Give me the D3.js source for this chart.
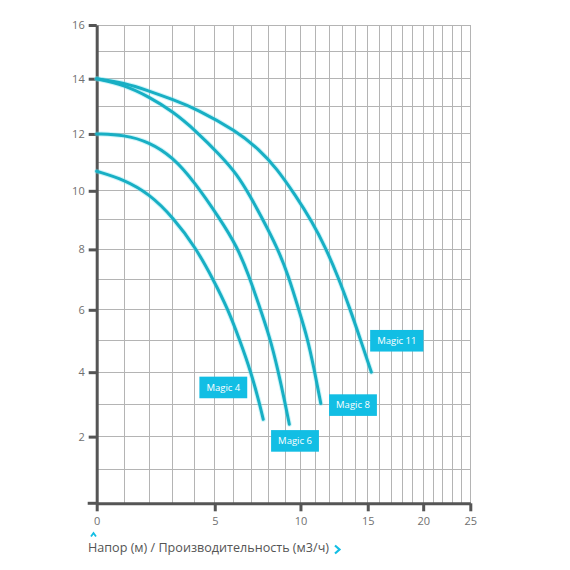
<!DOCTYPE html>
<html>
<head>
<meta charset="utf-8">
<script src="https://cdn.jsdelivr.net/npm/d3@7"></script>
<style>
  html, body { margin: 0; padding: 0; background: #fff; }
  svg { display: block; }
</style>
</head>
<body>
<svg id="chart" width="570" height="570"></svg>
<script>
// ---- data (flow m3/h, head m) ----
const seriesNames = ["Magic 4", "Magic 6", "Magic 8", "Magic 11"];
const magic4 = [[0,10.68],[1,10.39],[2,9.89],[3,9.1],[4.07,8.05],[4.92,7],[5.7,6],[6.33,5],[6.95,4],[7.45,3],[7.66,2.53]];
const magic6 = [[0,12],[1,11.97],[2,11.71],[3,11.18],[4,10.31],[5.27,9.03],[6.17,8.1],[6.84,7.11],[7.35,6.25],[8.07,5.09],[8.55,4.07],[9,3.03],[9.27,2.38]];
const magic8 = [[0,14],[1,13.77],[2,13.33],[3,12.81],[4.1,12.09],[5.27,11.25],[6.15,10.59],[6.9,9.82],[7.65,9],[8.5,8.07],[9.2,7.15],[9.97,5.87],[10.45,5.12],[10.92,4.13],[11.4,3.02]];
const magic11 = [[0,14],[1,13.85],[2,13.55],[3,13.24],[4.1,12.9],[6.15,12.1],[7.45,11.43],[8.45,10.8],[9.7,9.82],[10.8,8.93],[11.7,8.1],[12.7,7.05],[13.6,6],[14.35,5.1],[15.3,4]];
const labelAt = [[5.44,3.52],[9.64,1.87],[13.81,2.97],[17.51,5.0]]; // label centres in data units
const xTicks = [0,5,10,15,20,25];
const yTicks = [2,4,6,8,10,12,14,16];
const xGrid = d3.range(0, 26);
const yGrid = d3.range(0, 17);
const axisTitle = "Напор (м) / Производительность (м3/ч)";

const series = [magic4, magic6, magic8, magic11];

const svg = d3.select("#chart");
const x = d3.scaleSymlog().constant(11).domain([0, 25]).range([96.7, 470.3]);
const y = d3.scaleSymlog().constant(57).domain([0, 16]).range([503.3, 25]);

const curveColor = "#18afc4";
const labelColor = "#12bee4";
const axisColor = "#555";

// grid
const grid = svg.append("g").attr("stroke", "#b4b4b4").attr("stroke-width", 1).attr("shape-rendering", "crispEdges");
grid.selectAll("line.v").data(xGrid).join("line").attr("class", "v")
  .attr("x1", d => x(d)).attr("x2", d => x(d)).attr("y1", y(16)).attr("y2", y(0));
grid.selectAll("line.h").data(yGrid).join("line").attr("class", "h")
  .attr("x1", x(0)).attr("x2", x(25)).attr("y1", d => y(d)).attr("y2", d => y(d));

// axes
const font = "'Open Sans', 'DejaVu Sans', sans-serif";
const yAxis = svg.append("g").attr("transform", `translate(${x(0)},0)`)
  .call(d3.axisLeft(y).tickValues(yTicks).tickSize(8).tickPadding(4).tickSizeOuter(0));
const xAxis = svg.append("g").attr("transform", `translate(0,${y(0)})`)
  .call(d3.axisBottom(x).tickValues(xTicks).tickSize(8).tickPadding(6).tickSizeOuter(0));
[yAxis, xAxis].forEach(a => {
  a.select(".domain").attr("stroke", axisColor).attr("stroke-width", 3);
  a.selectAll(".tick line").attr("stroke", axisColor).attr("stroke-width", 3);
  a.selectAll(".tick text").attr("fill", "#707070").attr("font-size", 11).attr("font-family", font);
});
// small extension of the bottom axis to the left of the origin
svg.append("line").attr("x1", x(0) - 9).attr("x2", x(0)).attr("y1", y(0)).attr("y2", y(0))
  .attr("stroke", axisColor).attr("stroke-width", 3);

// curves
const line = d3.line().x(d => x(d[0])).y(d => y(d[1])).curve(d3.curveBasis);
svg.append("g").selectAll("path.glow").data(series).join("path")
  .attr("d", line).attr("fill", "none").attr("stroke", "#6fe0ee").attr("stroke-opacity", 0.35)
  .attr("stroke-width", 5).attr("stroke-linecap", "round");
svg.append("g").selectAll("path.curve").data(series).join("path")
  .attr("d", line).attr("fill", "none").attr("stroke", curveColor)
  .attr("stroke-width", 3).attr("stroke-linecap", "round");

// labels
const lab = svg.append("g").selectAll("g").data(seriesNames).join("g")
  .attr("transform", (d, i) => `translate(${x(labelAt[i][0])},${y(labelAt[i][1])})`);
lab.each(function(d) {
  const g = d3.select(this);
  const t = g.append("text").text(d).attr("fill", "#fff").attr("font-size", 9.5)
    .attr("font-family", font).attr("text-anchor", "middle").attr("dy", "0.35em");
  const w = t.node().getComputedTextLength() + 14;
  g.insert("rect", "text").attr("x", -w / 2).attr("y", -10.8).attr("width", w).attr("height", 21.6)
    .attr("fill", labelColor);
});

// axis title
svg.append("text").attr("x", 88).attr("y", 552).text(axisTitle)
  .attr("fill", "#555").attr("font-size", 12.5).attr("font-family", font)
  .attr("textLength", 241).attr("lengthAdjust", "spacingAndGlyphs");
svg.append("polyline").attr("points", "335,545.5 339.5,549.5 335,553.5")
  .attr("fill", "none").attr("stroke", labelColor).attr("stroke-width", 2.2);
svg.append("polyline").attr("points", "91,536.5 93.5,533 96,536.5")
  .attr("fill", "none").attr("stroke", labelColor).attr("stroke-width", 1.8);
</script>
</body>
</html>
